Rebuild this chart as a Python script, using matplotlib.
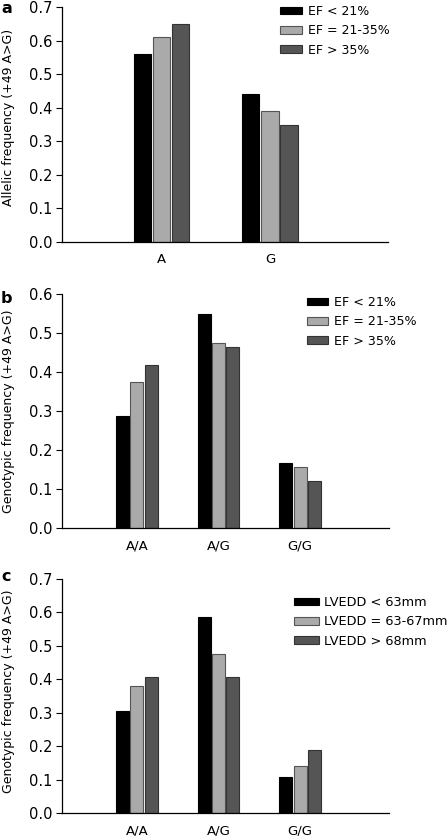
import matplotlib
matplotlib.use("Agg")
import matplotlib.pyplot as plt
import numpy as np

plt.rcParams['font.family'] = ['DejaVu Sans']

# Panel a
a_categories = ["A", "G"]
a_series = ["EF < 21%", "EF = 21-35%", "EF > 35%"]
a_values = [[0.56, 0.44], [0.61, 0.39], [0.65, 0.35]]
a_yticks = [0.0, 0.1, 0.2, 0.3, 0.4, 0.5, 0.6, 0.7]

# Panel b
b_categories = ["A/A", "A/G", "G/G"]
b_series = ["EF < 21%", "EF = 21-35%", "EF > 35%"]
b_values = [[0.288, 0.550, 0.167], [0.375, 0.474, 0.156], [0.419, 0.464, 0.120]]
b_yticks = [0.0, 0.1, 0.2, 0.3, 0.4, 0.5, 0.6]

# Panel c
c_categories = ["A/A", "A/G", "G/G"]
c_series = ["LVEDD < 63mm", "LVEDD = 63-67mm", "LVEDD > 68mm"]
c_values = [[0.306, 0.587, 0.107], [0.381, 0.477, 0.142], [0.407, 0.407, 0.187]]
c_yticks = [0.0, 0.1, 0.2, 0.3, 0.4, 0.5, 0.6, 0.7]

colors = ["#000000", "#aaaaaa", "#555555"]
edges = ["#000000", "#555555", "#333333"]

W, H = 448, 836
fig = plt.figure(figsize=(W / 100, H / 100), dpi=100)


def panel(rect_px, cats, series, values, yticks, ylabel, letter, legend_px,
          letter_y, leg_fs, label_y, hl):
    l, t, r, b = rect_px
    ax = fig.add_axes([l / W, 1 - b / H, (r - l) / W, (b - t) / H])
    n = len(cats)
    x = np.arange(1, n + 1)
    bw = 0.158
    step = 0.176
    for i, (s, vals) in enumerate(zip(series, values)):
        ax.bar(x + (i - 1) * step, vals, width=bw, color=colors[i],
               edgecolor=edges[i], linewidth=0.8, label=s)
    ax.set_xlim(0.083, n + 1.088)
    ax.set_ylim(0, yticks[-1])
    ax.set_yticks(yticks)
    ax.set_yticklabels([f"{v:.1f}" for v in yticks], fontsize=10.5)
    ax.set_xticks(x)
    ax.set_xticklabels(cats, fontsize=9.5)
    ax.tick_params(axis='x', length=0, pad=8)
    ax.tick_params(axis='y', length=4, width=0.8, pad=3)
    for sp in ['top', 'right']:
        ax.spines[sp].set_visible(False)
    for sp in ['left', 'bottom']:
        ax.spines[sp].set_linewidth(0.9)
    ax.set_ylabel(ylabel, fontsize=9)
    ax.yaxis.set_label_coords(-(l - 15) / (r - l), label_y)
    lx, ly = legend_px
    ax.legend(loc='upper left', bbox_to_anchor=(lx / W, 1 - ly / H),
              bbox_transform=fig.transFigure, frameon=False,
              fontsize=leg_fs, handlelength=hl, handleheight=0.55,
              handletextpad=0.45, labelspacing=0.5, borderpad=0,
              borderaxespad=0)
    fig.text(1 / W, 1 - letter_y / H, letter, fontsize=11.5, weight='bold',
             va='baseline', ha='left')
    return ax


panel((62, 7, 388, 242), a_categories, a_series, a_values, a_yticks,
      "Allelic frequency (+49 A>G)", "a", (280, 5), 13, 9.0, 0.53, 1.75)
panel((62, 294, 389, 528), b_categories, b_series, b_values, b_yticks,
      "Genotypic frequency (+49 A>G)", "b", (307, 296), 303, 9.1, 0.5, 1.7)
panel((62, 579, 389, 813), c_categories, c_series, c_values, c_yticks,
      "Genotypic frequency (+49 A>G)", "c", (294, 596), 581, 9.3, 0.52, 1.9)

fig.savefig("out.png", dpi=100)
